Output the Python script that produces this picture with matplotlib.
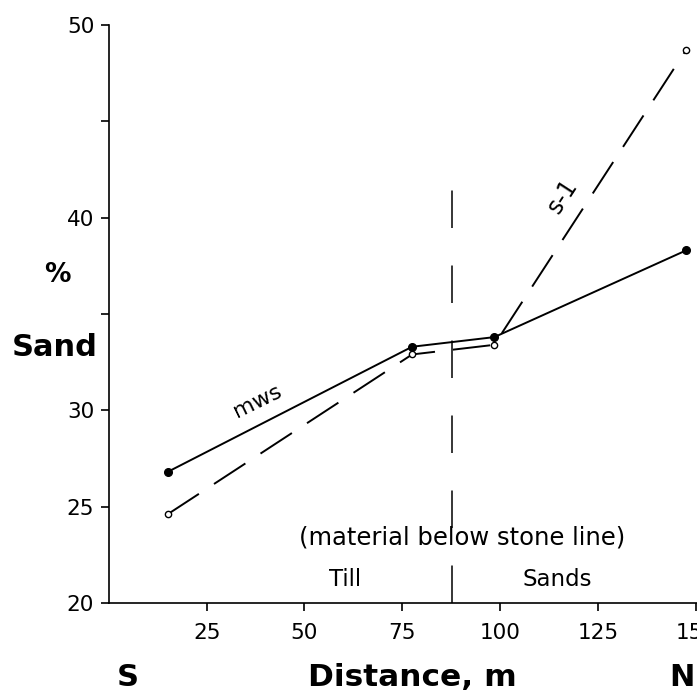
import matplotlib
matplotlib.use("Agg")
import matplotlib.pyplot as plt

plt.rcParams['font.family'] = ['DejaVu Sans']
plt.rcParams['lines.scale_dashes'] = False

# Data
distance = [15, 77.5, 98.5, 147.5]
mws_sand = [26.8, 33.3, 33.8, 38.3]
s1_sand = [24.6, 32.9, 33.4, 48.7]
boundary_x = 87.8
x_ticks = [25, 50, 75, 100, 125, 150]
y_ticks = [20, 25, 30, 35, 40, 45, 50]
y_ticklabels = ['20', '25', '30', '', '40', '', '50']

fig = plt.figure(figsize=(6.97, 6.96), dpi=100)
W, H = 697, 696
left_px, right_px = 108.8, 697
bottom_px, top_px = 603, 25
ax = fig.add_axes([left_px / W, (H - bottom_px) / H,
                   (right_px - left_px) / W, (bottom_px - top_px) / H])
ax.set_xlim(0, 150.3)
ax.set_ylim(20, 50)

for s in ['top', 'right']:
    ax.spines[s].set_visible(False)
for s in ['left', 'bottom']:
    ax.spines[s].set_linewidth(1.2)

ax.set_xticks(x_ticks)
ax.set_xticklabels([str(v) for v in x_ticks])
ax.set_yticks(y_ticks)
ax.set_yticklabels(y_ticklabels)
ax.tick_params(axis='both', direction='out', length=5.5, width=1.2,
               labelsize=15.5)
ax.tick_params(axis='x', pad=9)
ax.tick_params(axis='y', pad=5)

# mws: solid line with filled markers
ax.plot(distance, mws_sand, color='black', lw=1.4, solid_capstyle='butt',
        marker='o', ms=5.5, mfc='black', mec='black', clip_on=False)
# s-1: dashed with open markers
ln, = ax.plot(distance, s1_sand, color='black', lw=1.4,
              marker='o', ms=4.5, mfc='white', mec='black', mew=1.0,
              clip_on=False)
ln.set_dashes((27, 13))

# vertical boundary
vl, = ax.plot([boundary_x, boundary_x], [20, 41.5], color='black', lw=1.1)
vl.set_dashes((27, 27))

# annotations
ax.text(38.1, 30.45, 'mws', rotation=26, fontsize=16,
        ha='center', va='center')
ax.text(116.0, 41.1, 's-1', rotation=57, fontsize=17,
        ha='center', va='center')
ax.text(90.2, 23.42, '(material below stone line)', fontsize=17.5,
        ha='center', va='center')
ax.text(60.3, 21.2, 'Till', fontsize=16.5, ha='center', va='center')
ax.text(114.5, 21.2, 'Sands', fontsize=16.5, ha='center', va='center')

# outer labels
fig.text(57 / W, 1 - 275 / H, '%', fontsize=19, fontweight='bold',
         ha='center', va='center')
fig.text(55 / W, 1 - 347 / H, 'Sand', fontsize=22, fontweight='bold',
         ha='center', va='center')
fig.text(128 / W, 1 - 677 / H, 'S', fontsize=22, fontweight='bold',
         ha='center', va='center')
fig.text(412 / W, 1 - 677 / H, 'Distance, m', fontsize=22.5,
         fontweight='bold', ha='center', va='center')
fig.text(682 / W, 1 - 677 / H, 'N', fontsize=22, fontweight='bold',
         ha='center', va='center')

fig.savefig('out.png', dpi=100)
